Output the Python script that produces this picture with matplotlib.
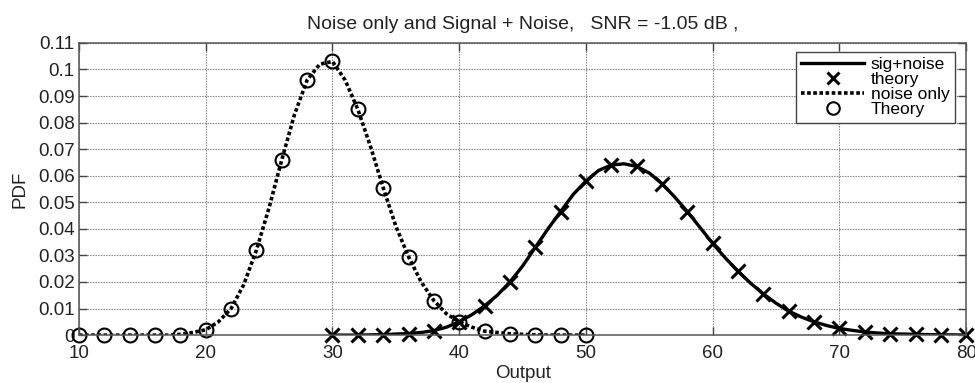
import matplotlib
matplotlib.use("Agg")
import matplotlib.pyplot as plt

plt.rcParams["font.family"] = ["Liberation Sans", "DejaVu Sans"]

# simulated histograms (1-unit bins)
noise_x = list(range(10, 51))
noise_pdf = [0, 0, 0, 0, 0, 0, 0, 0, 0.0003, 0.001, 0.002, 0.005, 0.010, 0.019,
             0.032, 0.048, 0.066, 0.083, 0.096, 0.102, 0.103, 0.096, 0.085,
             0.071, 0.0555, 0.041, 0.0295, 0.020, 0.013, 0.008, 0.005, 0.003,
             0.0015, 0.001, 0.0005, 0.0003, 0.0001, 0, 0, 0, 0]
sig_x = list(range(30, 81))
sig_pdf = [0, 0, 0, 0.0001, 0.0002, 0.0004, 0.0006, 0.001, 0.0017, 0.003,
           0.005, 0.0077, 0.011, 0.015, 0.020, 0.026, 0.033, 0.040, 0.0465,
           0.053, 0.058, 0.062, 0.064, 0.0645, 0.0635, 0.061, 0.057, 0.052,
           0.0465, 0.0405, 0.0345, 0.029, 0.024, 0.0195, 0.0155, 0.012, 0.009,
           0.0068, 0.005, 0.0036, 0.0025, 0.0018, 0.0012, 0.0008, 0.0005,
           0.0004, 0.0003, 0.0002, 0.0001, 0.0001, 0]

# theoretical values at even outputs
noise_theory_x = list(range(10, 51, 2))
noise_theory = [0, 0, 0, 0, 0, 0.002, 0.010, 0.032, 0.066, 0.096, 0.103,
                0.085, 0.0555, 0.0295, 0.013, 0.005, 0.0015, 0.0005, 0, 0, 0]
sig_theory_x = list(range(30, 81, 2))
sig_theory = [0, 0, 0, 0.0005, 0.0015, 0.005, 0.011, 0.020, 0.033, 0.0465,
              0.058, 0.064, 0.0635, 0.057, 0.0465, 0.0345, 0.024, 0.0155,
              0.009, 0.005, 0.0025, 0.0012, 0.0005, 0.0003, 0.0001, 0]

snr_db = -1.05
fs = 13.5

fig = plt.figure(figsize=(9.75, 3.83), dpi=100)
ax = fig.add_axes([0.081, 0.125, 0.910, 0.763])

ax.plot(sig_x, sig_pdf, color="black", linewidth=2.4, label="sig+noise")
ax.plot(sig_theory_x, sig_theory, linestyle="none", marker="x", color="black",
        markersize=10, markeredgewidth=2.2, label="theory", clip_on=False)
ax.plot(noise_x, noise_pdf, color="black", linewidth=2.6, linestyle=(0, (1, 0.7)),
        label="noise only")
ax.plot(noise_theory_x, noise_theory, linestyle="none", marker="o",
        markerfacecolor="none", markeredgecolor="black", markersize=10,
        markeredgewidth=1.5, label="Theory", clip_on=False)

ax.set_xlim(10, 80)
ax.set_ylim(0, 0.11)
ax.set_xticks(range(10, 81, 10))
ax.set_yticks([i / 100 for i in range(12)])
ax.set_yticklabels(["0"] + ["%g" % (i / 100) for i in range(1, 12)])
ax.tick_params(direction="in", top=True, right=True, labelsize=fs, length=6,
               width=1.0, colors="#444444", labelcolor="#222222", pad=3)
ax.tick_params(axis="x", pad=7)
ax.grid(True, color="#777777", linestyle=(0, (1.2, 1.2)), linewidth=0.8)
for sp in ax.spines.values():
    sp.set_color("#555555")
    sp.set_linewidth(1.1)

ax.set_xlabel("Output", fontsize=fs, labelpad=2, color="#222222")
ax.set_ylabel("PDF", fontsize=fs, labelpad=7, color="#222222")
ax.set_title("Noise only and Signal + Noise,   SNR = %.2f dB ," % snr_db,
             fontsize=14, pad=10, color="#222222")

leg = ax.legend(loc="upper right", bbox_to_anchor=(0.987, 0.97), fontsize=12.5,
                frameon=True, fancybox=False, edgecolor="#444444",
                handlelength=3.6, handletextpad=0.4, borderpad=0.3,
                labelspacing=0.0, borderaxespad=0, framealpha=1)
leg.get_frame().set_linewidth(1.0)
for h in leg.legend_handles:
    h.set_markersize(9)

fig.savefig("out.png", dpi=100)
